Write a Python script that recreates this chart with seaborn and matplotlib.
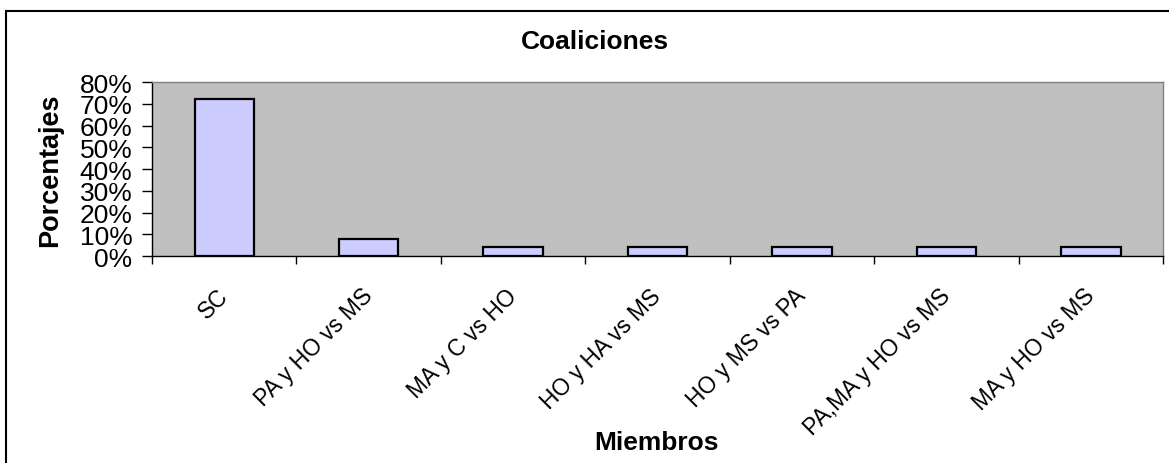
import numpy as np
import pandas as pd
import seaborn as sns
import matplotlib.pyplot as plt
from matplotlib.ticker import PercentFormatter, FixedLocator
from matplotlib.transforms import ScaledTranslation

miembros = ['SC', 'PA y HO vs MS', 'MA y C vs HO', 'HO y HA vs MS',
            'HO y MS vs PA', 'PA,MA y HO vs MS', 'MA y HO vs MS']
porcentajes = [72, 8, 4, 4, 4, 4, 4]

df = pd.DataFrame({'Miembros': miembros, 'Porcentajes': porcentajes})

sns.set_style('white')
plt.rcParams['font.family'] = ['Liberation Sans', 'DejaVu Sans']
for k in ['text.color', 'axes.labelcolor', 'xtick.color', 'ytick.color']:
    plt.rcParams[k] = 'black'

fig = plt.figure(figsize=(11.69, 4.64), dpi=100)
ax = fig.add_axes([0.130, 0.446, 0.865, 0.375])

sns.barplot(data=df, x='Miembros', y='Porcentajes', color='#CCCCFF',
            edgecolor='black', linewidth=1.6, width=0.41, ax=ax, saturation=1)

ax.set_facecolor('#C0C0C0')
ax.set_xlim(-0.5, len(miembros) - 0.5)
ax.set_ylim(0, 80)
ax.set_yticks(range(0, 81, 10))
ax.yaxis.set_major_formatter(PercentFormatter(decimals=0))
ax.tick_params(axis='y', labelsize=19, length=7, width=1, direction='out',
               left=True, pad=7)

# etiquetas en el centro, marcas entre categorias
ax.set_xticks(range(len(miembros)))
ax.set_xticklabels(miembros, rotation=45, ha='right', va='top',
                   rotation_mode='anchor', fontsize=16.5)
ax.tick_params(axis='x', which='major', length=0, pad=20)
desplazamiento = ScaledTranslation(-0.08, 0, fig.dpi_scale_trans)
for lbl in ax.get_xticklabels():
    lbl.set_transform(lbl.get_transform() + desplazamiento)
ax.xaxis.set_minor_locator(FixedLocator(np.arange(-0.5, len(miembros), 1)))
ax.tick_params(axis='x', which='minor', length=6, width=1, direction='out', bottom=True)

for side in ['left', 'bottom']:
    ax.spines[side].set_color('black')
    ax.spines[side].set_linewidth(1)
for side in ['top', 'right']:
    ax.spines[side].set_color('#808080')
    ax.spines[side].set_linewidth(1)

ax.set_xlabel('')
ax.set_ylabel('')
fig.text(0.509, 0.909, 'Coaliciones', fontsize=19, fontweight='bold',
         ha='center', va='center')
fig.text(0.562, 0.045, 'Miembros', fontsize=19, fontweight='bold',
         ha='center', va='center')
fig.text(0.043, 0.633, 'Porcentajes', fontsize=19.5, fontweight='bold',
         rotation=90, ha='center', va='center')

# marco del grafico (solo visibles los lados izquierdo y superior)
fig.patches.append(plt.Rectangle((0.005, -0.2), 1.2, 1.174, transform=fig.transFigure,
                                 fill=False, edgecolor='black', linewidth=1.5))

fig.savefig('out.png', dpi=100)
